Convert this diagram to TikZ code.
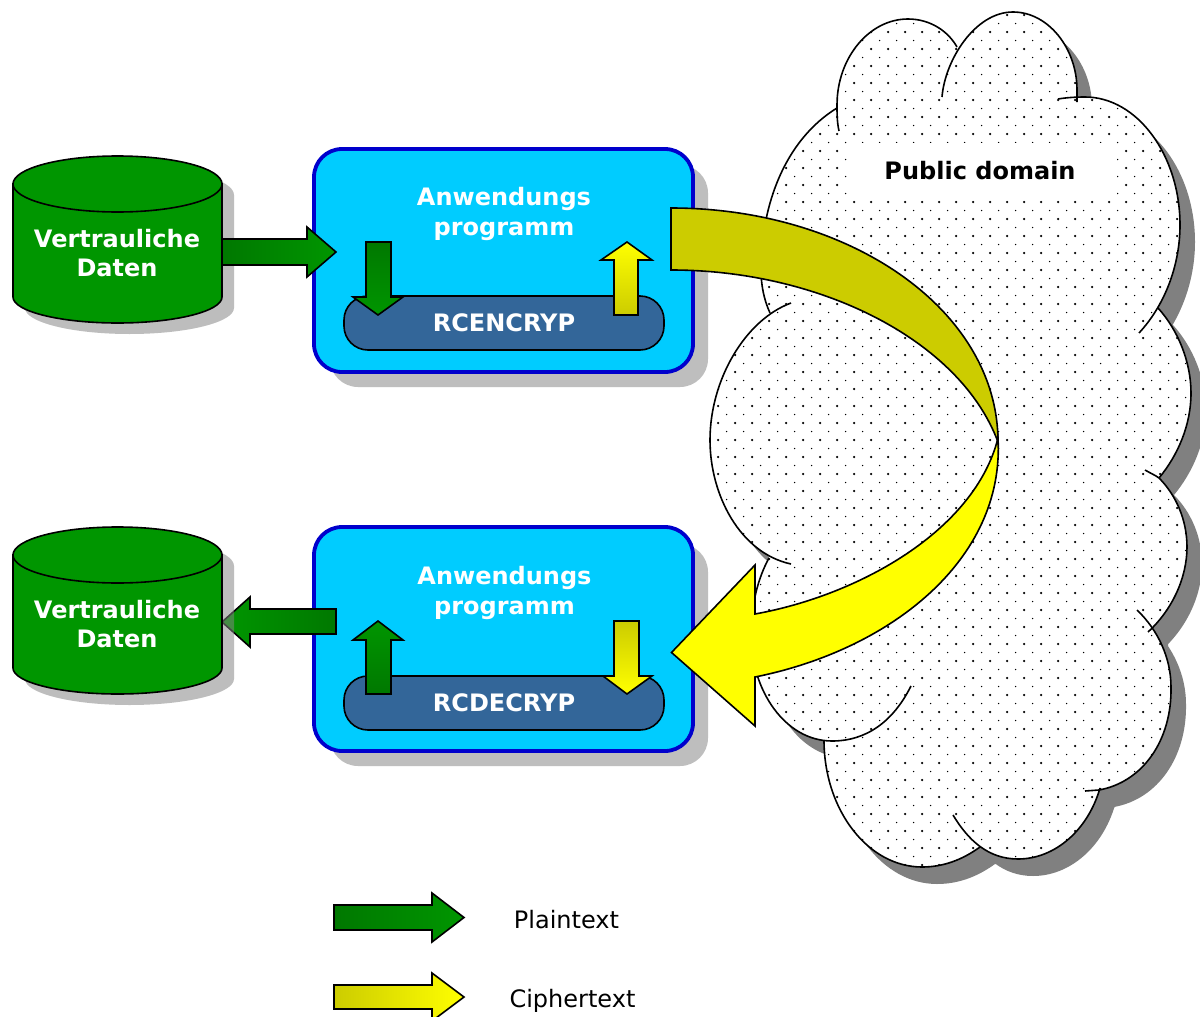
\documentclass[tikz,border=0pt]{standalone}
\usepackage{fontspec}
\setmainfont{DejaVu Sans}
\definecolor{gdark}{RGB}{0,120,0}
\definecolor{glight}{RGB}{0,150,0}
\definecolor{olive}{RGB}{204,204,0}
\definecolor{yel}{RGB}{255,255,0}
\definecolor{boxfill}{RGB}{0,204,255}
\definecolor{boxline}{RGB}{0,0,204}
\definecolor{barfill}{RGB}{51,102,153}
\definecolor{softgray}{RGB}{132,132,132}
\definecolor{softsolid}{RGB}{190,190,190}
\definecolor{cloudshadow}{RGB}{128,128,128}
\def\loA{(839,131) .. controls (837,122) and (837,113) .. (837,105) .. controls (837,58) and (869,19) .. (908,19) .. controls (930,19) and (948,31) .. (957,47)}
\def\loB{(942,97) .. controls (945,60) and (975,12) .. (1013,12) .. controls (1048,12) and (1077,48) .. (1077,90) -- (1077,102)}
\def\loC{(1058,99) .. controls (1067,97.5) and (1076,97) .. (1085,97) .. controls (1137,97) and (1180,155) .. (1180,225) .. controls (1180,265) and (1165,305) .. (1139,333)}
\def\loD{(1158,308) .. controls (1178,330) and (1191,362) .. (1191,393) .. controls (1191,425) and (1178,455) .. (1159,478)}
\def\loE{(1145,470) .. controls (1150,473) and (1155,475) .. (1159,478) .. controls (1176,495) and (1187,520) .. (1187,547) .. controls (1187,578) and (1172,610) .. (1148,632)}
\def\loF{(1137,610) .. controls (1158,630) and (1171,658) .. (1171,687) .. controls (1172,740) and (1143,782) .. (1099,790) -- (1085,791)}
\def\loG{(1100,788) .. controls (1088,830) and (1055,859) .. (1018,859) .. controls (988,859) and (968,840) .. (953,815)}
\def\loH{(980,847) .. controls (962,860) and (943,867) .. (922,867) .. controls (868,867) and (824,810) .. (824,740)}
\def\loI{(911,686) .. controls (893,722) and (866,741) .. (832,741) .. controls (785,741) and (751,690) .. (751,635) .. controls (751,605) and (758,578) .. (769,558)}
\def\loJ{(791,564) .. controls (740,553) and (710,495) .. (710,440) .. controls (710,380) and (745,320) .. (791,303)}
\def\loK{(770,313) .. controls (764,300) and (761,285) .. (761,270) .. controls (761,205) and (785,140) .. (837,108)}
\def\cloudpath{\loA -- cycle \loB -- cycle \loC -- cycle \loD -- cycle \loE -- cycle \loF -- cycle \loG -- cycle \loH -- cycle \loI -- cycle \loJ -- cycle \loK -- cycle
  (825,122) -- (957,47) -- (1060,70) -- (1158,308) -- (1175,393) -- (1159,478) -- (1170,547) -- (1153,627) -- (1155,700) -- (1100,790) -- (1020,850) -- (980,847) -- (920,860) -- (824,740) -- (769,558) -- (730,440) -- (770,313) -- cycle}
\tikzset{
  x=1pt,y=-1pt,
  lobe/.style={draw=black,line width=1.6pt},
  blockarrow/.style={draw=black,line width=1.6pt,line join=miter},
  boxshape/.style={draw=boxline,fill=boxfill,line width=3.8pt,rounded corners=28pt},
  boxshadow/.style={fill=softsolid,rounded corners=28pt},
  barshape/.style={draw=black,fill=barfill,line width=1.6pt,rounded corners=24pt},
  whitelabel/.style={text=white,font=\fontsize{24}{29.5}\selectfont\bfseries,align=center,inner sep=0pt},
  legendlabel/.style={text=black,font=\fontsize{24}{29}\selectfont,inner sep=0pt},
  cylfill/.style={fill=glight,draw=black,line width=1.6pt},
  softshadow/.style={fill=softgray,fill opacity=.53},
}
\newcommand{\cylbody}[1]{(13,#1) -- (13,#1+113) .. controls (13,#1+127.3) and (60,#1+139) .. (117.5,#1+139) .. controls (175,#1+139) and (222,#1+127.3) .. (222,#1+113) -- (222,#1) -- cycle}
\newcommand{\cylouter}[1]{(13,#1) .. controls (13,#1-15.4) and (60,#1-28) .. (117.5,#1-28) .. controls (175,#1-28) and (222,#1-15.4) .. (222,#1) -- (222,#1+113) .. controls (222,#1+127.3) and (175,#1+139) .. (117.5,#1+139) .. controls (60,#1+139) and (13,#1+127.3) .. (13,#1+113) -- cycle}
\begin{document}
\begin{tikzpicture}
\useasboundingbox (0,0) rectangle (1200,1017);
\fill[white] (0,0) rectangle (1200,1017);

% cloud
\fill[cloudshadow,shift={(15pt,-17pt)}] \cloudpath;
\fill[white] \cloudpath;
\begin{scope}
  \clip \cloudpath;
  \fill[black] foreach \i in {0,...,29} {foreach \j in {0,...,50} {(701+17*\i,15+17*\j) circle[radius=1.25]}};
  \fill[black] foreach \i in {0,...,29} {foreach \j in {0,...,50} {(709.5+17*\i,23.5+17*\j) circle[radius=.75]}};
  \fill[white] (847,143) rectangle (1117,197);
\end{scope}
\draw[lobe] \loA; \draw[lobe] \loB; \draw[lobe] \loC; \draw[lobe] \loD;
\draw[lobe] \loE; \draw[lobe] \loF; \draw[lobe] \loG; \draw[lobe] \loH;
\draw[lobe] \loI; \draw[lobe] \loJ; \draw[lobe] \loK;
\node[inner sep=0pt,font=\fontsize{24}{29}\selectfont\bfseries] (pub) at (980,171) {Public domain};

% box shadows and boxes
\fill[boxshadow] (330,165) rectangle (708,387);
\fill[boxshadow] (330,544) rectangle (708,766);
\draw[boxshape] (314,149) rectangle (693,372);
\draw[boxshape] (314,527) rectangle (693,751);
\draw[barshape] (344,296) rectangle (664,350);
\draw[barshape] (344,676) rectangle (664,730);
\node[whitelabel] (app1) at (504,214) {Anwendungs\\programm};
\node[whitelabel] (app2) at (504.5,593) {Anwendungs\\programm};
\node[whitelabel] (enc) at (504,323) {RCENCRYP};
\node[whitelabel] (dec) at (504,703) {RCDECRYP};

% arrow under the second store's shadow
\path[blockarrow,left color=glight,right color=gdark] (336,609) -- (250,609) -- (250,597) -- (222,622) -- (250,647) -- (250,634) -- (336,634) -- cycle;

% data stores
\fill[softshadow,shift={(12pt,-11pt)}] \cylouter{184};
\fill[softshadow,shift={(12pt,-11pt)}] \cylouter{555};
\draw[cylfill] \cylbody{184};
\draw[cylfill] (117.5,184) ellipse[x radius=104.5,y radius=28];
\draw[cylfill] \cylbody{555};
\draw[cylfill] (117.5,555) ellipse[x radius=104.5,y radius=28];
\node[whitelabel] (store1) at (117,253) {Vertrauliche\\Daten};
\node[whitelabel] (store2) at (117,624) {Vertrauliche\\Daten};

% block arrows
\path[blockarrow,left color=gdark,right color=glight] (222,239) -- (307,239) -- (307,227) -- (336,252) -- (307,277) -- (307,265) -- (222,265) -- cycle;
\path[blockarrow,top color=gdark,bottom color=glight] (366,242) -- (391,242) -- (391,297) -- (403,297) -- (378,315) -- (353,297) -- (366,297) -- cycle;
\path[blockarrow,top color=yel,bottom color=olive] (614,315) -- (638,315) -- (638,260) -- (652,260) -- (627,242) -- (601,260) -- (614,260) -- cycle;
\path[blockarrow,top color=glight,bottom color=gdark] (366,694) -- (391,694) -- (391,640) -- (403,640) -- (378,621) -- (353,640) -- (366,640) -- cycle;
\path[blockarrow,top color=olive,bottom color=yel] (614,621) -- (639,621) -- (639,676) -- (652,676) -- (627,694) -- (603,676) -- (614,676) -- cycle;

% large ribbon arrow
\draw[blockarrow,fill=yel] (998,438) .. controls (1005,560) and (890,650) .. (755,677) -- (755,726) -- (671.5,652.5) -- (755,565) -- (755,614) .. controls (860,595) and (975,530) .. (998,438) -- cycle;
\draw[blockarrow,fill=olive] (671,208) .. controls (850,208) and (998,310) .. (998,442) .. controls (960,340) and (820,270) .. (671,270) -- cycle;

% legend
\path[blockarrow,left color=gdark,right color=glight] (334,905) -- (432,905) -- (432,893) -- (464,917.5) -- (432,942) -- (432,930) -- (334,930) -- cycle;
\path[blockarrow,left color=olive,right color=yel] (334,985) -- (432,985) -- (432,973) -- (464,997) -- (432,1021) -- (432,1009) -- (334,1009) -- cycle;
\node[legendlabel] (plain) at (566.5,920) {Plaintext};
\node[legendlabel] (cipher) at (572.5,1000.5) {Ciphertext};
\end{tikzpicture}
\end{document}
